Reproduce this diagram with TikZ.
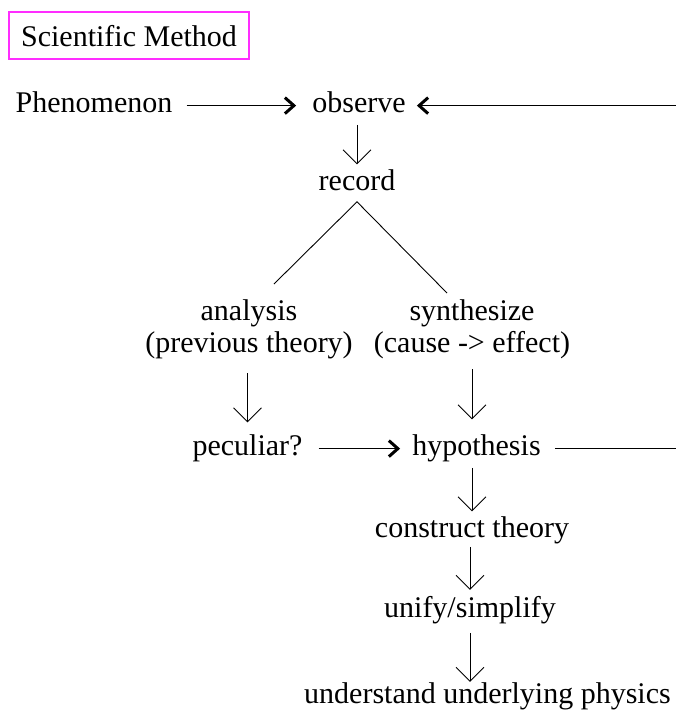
\documentclass[tikz,border=0pt]{standalone}
\usepackage{fontspec}
\setmainfont{Liberation Serif}
\usetikzlibrary{positioning,arrows.meta,calc}
\definecolor{boxpink}{RGB}{255,45,255}
\tikzset{
  lbl/.style={font=\fontsize{30}{32}\selectfont,inner sep=0pt,text height=22.4pt,text depth=9.6pt},
  lbltwo/.style={font=\fontsize{30}{32}\selectfont,inner sep=0pt,align=center,anchor=north},
  titlebox/.style={draw=boxpink,line width=1.6pt,font=\fontsize{30}{32}\selectfont,
    minimum width=240pt,minimum height=47pt,inner sep=0pt,text height=21pt,text depth=0pt},
  flow/.style={-{Straight Barb[length=9pt,width=16pt,line width=3pt 0 1]},line width=1.3pt},
  feed/.style={line width=1.4pt},
  down/.style={-{Straight Barb[length=14pt,width=28pt]},line width=0.9pt,
    shorten <=3pt,shorten >=3pt},
  fork/.style={line width=0.9pt},
}
\begin{document}
\begin{tikzpicture}[x=1pt,y=1pt]
  \useasboundingbox (0,0) rectangle (676,-713);
  \node[titlebox] (title) at (129,-35.5) {Scientific Method};
  % main column
  \node[lbl] (phen) at (94,-105.6) {Phenomenon};
  \node[lbl] (obs) at (359,-105.6) {observe};
  \node[lbl] (rec) at (357,-183.6) {record};
  \node[lbltwo] (ana) at (249,-297.6) {\strut analysis\\\strut (previous theory)};
  \node[lbltwo] (syn) at (472,-297.6) {\strut synthesize\\\strut (cause -> effect)};
  \node[lbl] (pec) at (247.5,-448.6) {peculiar?};
  \node[lbl] (hyp) at (476.5,-448.6) {hypothesis};
  \node[lbl] (con) at (472,-530.6) {construct theory};
  \node[lbl] (uni) at (470,-610.6) {unify/simplify};
  \node[lbl] (und) at (487.5,-696.6) {understand underlying physics};
  % loop back from the right edge
  \coordinate (backin) at (676,-105.6);
  \coordinate (backout) at (676,-448.6);
  \coordinate (forkL) at (274,-284);
  \coordinate (forkR) at (447,-293);
  \draw[flow,shorten <=14pt,shorten >=16pt] (phen.east) -- (obs.west);
  \draw[flow,shorten >=11pt] (backin) -- (obs.east);
  \draw[down] (rec.north |- obs.south) -- (rec.north);
  \draw[fork] (forkL) -- ([yshift=-2pt]rec.south) -- (forkR);
  \draw[down,shorten <=11pt,shorten >=10pt] (ana.south -| pec) -- (pec.north);
  \draw[down,shorten <=7pt,shorten >=13pt] (syn.south) -- (syn.south |- hyp.north);
  \draw[flow,shorten <=16pt,shorten >=12pt] (pec.east) -- (hyp.west);
  \draw[feed,shorten <=14pt] (hyp.east) -- (backout);
  \draw[down] (con.north |- hyp.south) -- (con.north);
  \draw[down,shorten <=0pt,shorten >=4.5pt] (uni.north |- con.south) -- (uni.north);
  \draw[down,shorten <=6pt,shorten >=-1.5pt] (uni.south) -- (uni.south |- und.north);
\end{tikzpicture}
\end{document}
